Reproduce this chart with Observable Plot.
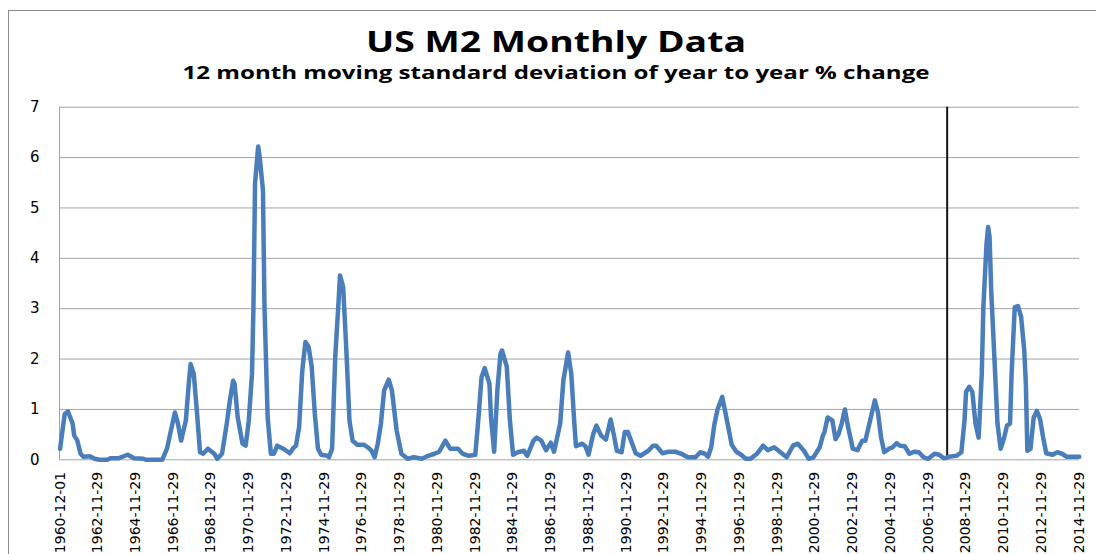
<!DOCTYPE html>
<html>
<head>
<meta charset="utf-8">
<script src="https://cdn.jsdelivr.net/npm/d3@7"></script>
<script src="https://cdn.jsdelivr.net/npm/@observablehq/plot@0.6"></script>
<style>
  html, body { margin: 0; padding: 0; background: #fff; }
  #page { position: relative; width: 1096px; height: 554px; overflow: hidden; background: #fff; }
  #frame { position: absolute; left: 8px; top: 10px; width: 2000px; height: 2000px; border: 1px solid #8c8c8c; box-sizing: border-box; }
  #header { position: relative; height: 96px; }
  .ttl { position: absolute; left: 556px; white-space: nowrap; font-family: "Open Sans", sans-serif; font-weight: 700; color: #000; transform-origin: 0 0; }
  #title { top: 27px; font-size: 28px; line-height: 28px; }
  #subtitle { top: 63px; font-size: 18px; line-height: 18px; }
  #chart { position: relative; }
</style>
</head>
<body>
<div id="page">
  <div id="frame"></div>
  <div id="header">
    <div id="title" class="ttl">US M2 Monthly Data</div>
    <div id="subtitle" class="ttl">12 month moving standard deviation of year to year % change</div>
  </div>
  <div id="chart"></div>
</div>
<script>
// ---- data ----
const months = [
  "1960-12","1961-03","1961-05","1961-08","1961-09","1961-11","1962-01","1962-03","1962-07","1962-10",
  "1963-01","1963-06","1963-08","1964-01","1964-07","1964-10","1964-11","1965-05","1965-07","1966-05",
  "1966-08","1966-10","1967-01","1967-03","1967-05","1967-08","1967-10","1967-11","1968-01","1968-03",
  "1968-05","1968-07","1968-10","1969-02","1969-04","1969-07","1969-10","1969-12","1970-02","1970-03",
  "1970-05","1970-08","1970-10","1970-12","1971-02","1971-03","1971-04","1971-06","1971-07","1971-09",
  "1971-10","1971-12","1972-02","1972-04","1972-06","1972-10","1973-02","1973-04","1973-06","1973-08",
  "1973-10","1973-12","1974-02","1974-04","1974-06","1974-08","1974-10","1975-02","1975-03","1975-05",
  "1975-07","1975-09","1975-10","1975-12","1976-02","1976-04","1976-06","1976-09","1977-01","1977-04",
  "1977-06","1977-08","1977-10","1977-12","1978-02","1978-05","1978-07","1978-10","1979-01","1979-05",
  "1979-09","1980-02","1980-06","1980-10","1981-01","1981-05","1981-08","1982-01","1982-04","1982-08",
  "1982-12","1983-02","1983-04","1983-06","1983-09","1983-10","1983-12","1984-02","1984-04","1984-05",
  "1984-08","1984-10","1984-12","1985-03","1985-07","1985-09","1986-01","1986-03","1986-06","1986-09",
  "1986-12","1987-02","1987-06","1987-08","1987-11","1988-01","1988-03","1988-04","1988-08","1988-10",
  "1988-12","1989-03","1989-05","1989-08","1989-11","1990-02","1990-04","1990-06","1990-09","1990-11",
  "1991-01","1991-04","1991-06","1991-09","1992-02","1992-05","1992-07","1992-11","1993-03","1993-07",
  "1993-11","1994-03","1994-08","1994-11","1995-02","1995-04","1995-06","1995-08","1995-10","1996-01",
  "1996-04","1996-07","1996-10","1997-01","1997-04","1997-07","1997-11","1998-03","1998-06","1998-10",
  "1999-02","1999-06","1999-10","2000-01","2000-05","2000-08","2000-11","2001-03","2001-05","2001-06",
  "2001-08","2001-11","2002-01","2002-03","2002-05","2002-07","2002-09","2002-12","2003-03","2003-06",
  "2003-08","2003-11","2004-02","2004-04","2004-06","2004-08","2004-11","2005-01","2005-04","2005-06",
  "2005-09","2005-12","2006-03","2006-06","2006-09","2006-12","2007-04","2007-07","2007-10","2008-01",
  "2008-06","2008-09","2008-11","2008-12","2009-02","2009-04","2009-06","2009-08","2009-10","2009-11",
  "2010-01","2010-02","2010-03","2010-04","2010-06","2010-08","2010-10","2010-12","2011-02","2011-04",
  "2011-05","2011-07","2011-09","2011-11","2012-01","2012-02","2012-03","2012-05","2012-07","2012-09",
  "2012-11","2013-01","2013-03","2013-07","2013-10","2014-01","2014-04","2014-10","2014-12"
];
const m2StdDev = [
  0.22,0.91,0.96,0.72,0.48,0.38,0.12,0.06,0.07,0.02,
  0.00,0.00,0.03,0.03,0.10,0.05,0.03,0.02,0.00,0.00,
  0.22,0.51,0.94,0.72,0.38,0.78,1.57,1.90,1.71,0.97,
  0.15,0.12,0.22,0.12,0.02,0.12,0.72,1.18,1.57,1.51,
  0.84,0.32,0.28,0.78,1.71,3.03,5.48,6.22,6.00,5.34,
  3.03,0.84,0.12,0.12,0.28,0.22,0.13,0.22,0.28,0.65,
  1.77,2.34,2.24,1.85,0.91,0.22,0.10,0.08,0.05,0.22,
  2.05,3.10,3.66,3.43,2.17,0.78,0.38,0.30,0.30,0.24,
  0.18,0.05,0.32,0.72,1.38,1.59,1.38,0.58,0.12,0.02,
  0.05,0.02,0.08,0.12,0.16,0.38,0.22,0.22,0.12,0.08,
  0.10,0.84,1.64,1.82,1.51,0.84,0.16,1.38,2.10,2.17,
  1.85,0.78,0.10,0.15,0.18,0.08,0.38,0.44,0.38,0.19,
  0.34,0.16,0.72,1.57,2.13,1.71,0.72,0.27,0.32,0.27,
  0.10,0.51,0.68,0.48,0.40,0.80,0.51,0.18,0.15,0.55,
  0.55,0.30,0.13,0.08,0.18,0.28,0.28,0.13,0.16,0.16,
  0.12,0.05,0.05,0.15,0.12,0.06,0.25,0.70,1.00,1.25,
  0.78,0.30,0.16,0.10,0.02,0.02,0.12,0.28,0.19,0.25,
  0.15,0.05,0.28,0.32,0.18,0.02,0.05,0.25,0.48,0.55,
  0.84,0.78,0.41,0.51,0.72,1.00,0.65,0.22,0.19,0.38,
  0.38,0.78,1.18,0.94,0.44,0.15,0.22,0.24,0.33,0.28,
  0.27,0.12,0.16,0.15,0.05,0.02,0.12,0.10,0.03,0.06,
  0.08,0.15,0.78,1.35,1.45,1.35,0.72,0.44,1.71,3.03,
  4.29,4.62,4.42,3.37,2.05,0.72,0.22,0.41,0.68,0.72,
  1.71,3.03,3.05,2.84,2.17,1.51,0.18,0.22,0.84,0.97,
  0.81,0.44,0.13,0.10,0.15,0.12,0.06,0.06,0.06
];
const tickLabels = [
  "1960-12-01","1962-11-29","1964-11-29","1966-11-29","1968-11-29","1970-11-29","1972-11-29",
  "1974-11-29","1976-11-29","1978-11-29","1980-11-29","1982-11-29","1984-11-29","1986-11-29",
  "1988-11-29","1990-11-29","1992-11-29","1994-11-29","1996-11-29","1998-11-29","2000-11-29",
  "2002-11-29","2004-11-29","2006-11-29","2008-11-29","2010-11-29","2012-11-29","2014-11-29"
];
const yTicks = [0, 1, 2, 3, 4, 5, 6, 7];
const markerMonths = ["2007-12"];
const xRange = ["1960-11-20", "2014-12-05"];

// ---- title scaling (reference text is horizontally stretched) ----
function fitWidth(id, target) {
  const el = document.getElementById(id);
  const w = el.getBoundingClientRect().width;
  const s = target / w;
  el.style.transform = `translateX(${-target / 2}px) scaleX(${s})`;
}
fitWidth("title", 380);
fitWidth("subtitle", 747);

// ---- chart ----
const parseMonth = d3.utcParse("%Y-%m");
const data = months.map((m, i) => ({date: parseMonth(m), value: m2StdDev[i]}));
const xDomain = xRange.map(d => new Date(d));
const tickDates = tickLabels.map(d => new Date(d));
const markers = markerMonths.map(parseMonth);

const chart = Plot.plot({
  width: 1096,
  height: 458,
  marginTop: 10.7,
  marginBottom: 94.7,
  marginLeft: 59,
  marginRight: 17,
  style: {fontFamily: "DejaVu Sans, sans-serif", fontSize: "14px", color: "#000", background: "transparent", overflow: "visible"},
  x: {type: "utc", domain: xDomain},
  y: {domain: [0, 7]},
  marks: [
    Plot.ruleY(yTicks, {stroke: "#a3a3a3", strokeWidth: 1}),
    Plot.ruleX([xDomain[0]], {y1: 0, y2: 7, stroke: "#a3a3a3", strokeWidth: 1}),
    Plot.axisY(yTicks, {tickSize: 0, tickPadding: 20, fontSize: 15, tickFormat: d => String(d), label: null}),
    Plot.axisX(tickDates, {tickSize: 0, tickPadding: 12, tickRotate: -90, fontSize: 14, tickFormat: d3.utcFormat("%Y-%m-%d"), label: null}),
    Plot.ruleX(markers, {y1: 0, y2: 7, stroke: "#151515", strokeWidth: 2}),
    Plot.line(data, {x: "date", y: "value", stroke: "#4a7ebb", strokeWidth: 4.5, strokeLinejoin: "round", strokeLinecap: "round"})
  ]
});
document.getElementById("chart").appendChild(chart);
</script>
</body>
</html>
